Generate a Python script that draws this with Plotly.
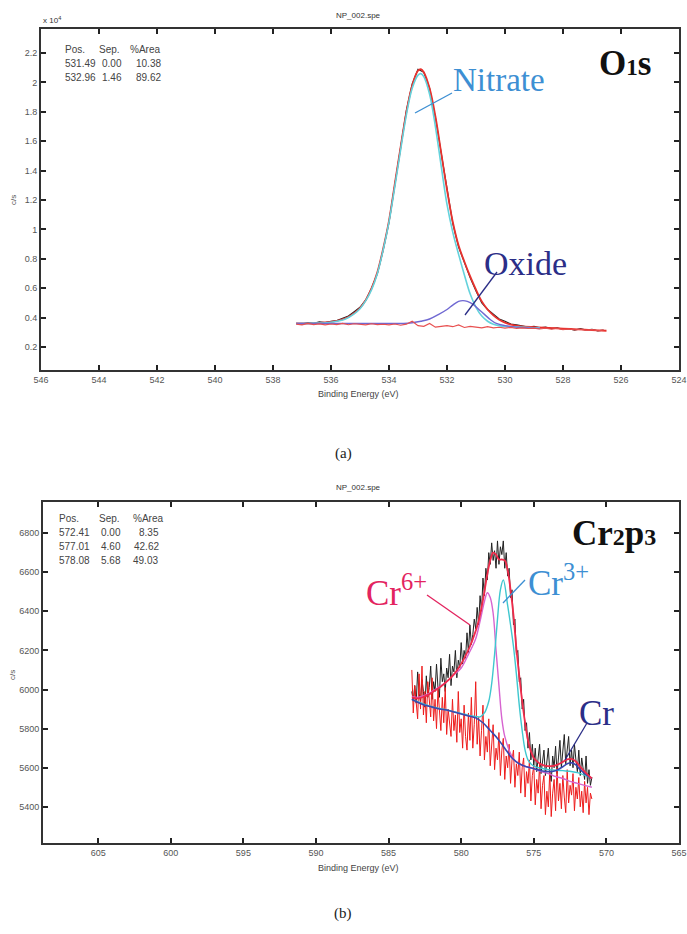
import numpy as np
import plotly.graph_objects as go

W, H = 687, 934

# ---------------- Panel (a): O1s ----------------
a_xticks = [546, 544, 542, 540, 538, 536, 534, 532, 530, 528, 526, 524]
a_yticks = [0.2, 0.4, 0.6, 0.8, 1.0, 1.2, 1.4, 1.6, 1.8, 2.0, 2.2]
a_yticktext = ["0.2", "0.4", "0.6", "0.8", "1", "1.2", "1.4", "1.6", "1.8", "2", "2.2"]

a_raw_E = [537.2, 537.0, 536.8, 536.6, 536.4, 536.2, 536.0, 535.8, 535.6, 535.4, 535.2, 535.0,
           534.8, 534.6, 534.4, 534.2, 534.0, 533.8, 533.6, 533.4, 533.2, 533.0, 532.8, 532.6,
           532.4, 532.2, 532.0, 531.8, 531.6, 531.4, 531.2, 531.0, 530.8, 530.6, 530.4, 530.2,
           530.0, 529.8, 529.6, 529.4, 529.2, 529.0, 528.8, 528.6, 528.4, 528.2, 528.0, 527.8,
           527.6, 527.4, 527.2, 527.0, 526.8, 526.6]
a_raw = [0.36, 0.355, 0.365, 0.36, 0.37, 0.365, 0.375, 0.38, 0.395, 0.41, 0.44, 0.47,
         0.52, 0.60, 0.70, 0.86, 1.05, 1.31, 1.56, 1.81, 1.99, 2.09, 2.07, 1.96,
         1.76, 1.52, 1.26, 1.04, 0.88, 0.77, 0.67, 0.58, 0.50, 0.455, 0.42, 0.39,
         0.375, 0.355, 0.35, 0.345, 0.335, 0.34, 0.33, 0.335, 0.325, 0.33, 0.32, 0.325,
         0.315, 0.325, 0.315, 0.32, 0.31, 0.315]
a_resid = [0.355, 0.35, 0.36, 0.352, 0.357, 0.35, 0.356, 0.352, 0.36, 0.351, 0.358, 0.355,
           0.35, 0.358, 0.352, 0.354, 0.35, 0.356, 0.348, 0.355, 0.375, 0.345, 0.34, 0.36,
           0.335, 0.34, 0.345, 0.338, 0.35, 0.332, 0.34, 0.335, 0.33, 0.338, 0.33, 0.334,
           0.328, 0.333, 0.326, 0.33, 0.325, 0.328, 0.322, 0.327, 0.32, 0.325, 0.318, 0.322,
           0.315, 0.32, 0.313, 0.318, 0.31, 0.315]

a_env_E = [537.2, 536.5, 536, 535.5, 535.2, 535, 534.8, 534.6, 534.4, 534.2, 534, 533.8, 533.6,
           533.4, 533.2, 533, 532.9, 532.8, 532.6, 532.4, 532.2, 532, 531.8, 531.6, 531.4, 531.2,
           531, 530.8, 530.6, 530.4, 530.2, 530, 529.8, 529.5, 529, 528.5, 528, 527.5, 527, 526.5]
a_env = [0.36, 0.362, 0.37, 0.395, 0.43, 0.465, 0.52, 0.6, 0.71, 0.87, 1.06, 1.31, 1.56,
         1.8, 1.98, 2.08, 2.09, 2.07, 1.96, 1.77, 1.52, 1.27, 1.05, 0.89, 0.78, 0.68,
         0.59, 0.51, 0.455, 0.415, 0.385, 0.365, 0.352, 0.342, 0.335, 0.33, 0.325, 0.32, 0.315, 0.31]

a_nit_E = [537.2, 536.5, 536, 535.5, 535.2, 535, 534.8, 534.6, 534.4, 534.2, 534, 533.8, 533.6,
           533.4, 533.2, 533, 532.9, 532.8, 532.6, 532.4, 532.2, 532, 531.8, 531.6, 531.4, 531.2,
           531, 530.8, 530.6, 530.4, 530.2, 530, 529.5, 529, 528.8]
a_nit = [0.36, 0.362, 0.368, 0.39, 0.425, 0.46, 0.515, 0.59, 0.70, 0.86, 1.05, 1.29, 1.54,
         1.78, 1.96, 2.05, 2.06, 2.04, 1.92, 1.70, 1.43, 1.17, 0.98, 0.83, 0.69, 0.56,
         0.47, 0.41, 0.375, 0.355, 0.345, 0.34, 0.335, 0.33, 0.33]

a_ox_E = [537.2, 536, 535, 534, 533.5, 533.2, 532.9, 532.6, 532.3, 532.0, 531.8, 531.6, 531.45,
          531.3, 531.1, 530.9, 530.7, 530.5, 530.3, 530.0, 529.6, 529.2, 528.8]
a_ox = [0.36, 0.36, 0.36, 0.36, 0.36, 0.365, 0.375, 0.39, 0.42, 0.455, 0.485, 0.51, 0.515,
        0.51, 0.49, 0.455, 0.42, 0.385, 0.36, 0.345, 0.335, 0.33, 0.325]

a_table = [["Pos.", "Sep.", "%Area"],
           ["531.49", "0.00", "10.38"],
           ["532.96", "1.46", "89.62"]]

# ---------------- Panel (b): Cr2p3 ----------------
b_xticks = [605, 600, 595, 590, 585, 580, 575, 570, 565]
b_yticks = [5400, 5600, 5800, 6000, 6200, 6400, 6600, 6800]

# raw counts, sampled every 0.1 eV from 583.4 eV downwards
b_raw_start, b_raw_step = 583.4, 0.1
b_raw = [5990, 5940, 6020, 5930, 6090, 5980, 5940, 6050, 5990, 5910,
         6070, 5960, 6010, 6120, 5950, 6040, 5990, 6130, 6010, 5960,
         6160, 6040, 6080, 5990, 6110, 6060, 6180, 6020, 6120, 6090,
         6200, 6060, 6150, 6110, 6240, 6130, 6200, 6160, 6290, 6190,
         6330, 6230, 6280, 6360, 6310, 6420, 6330, 6480, 6400, 6570,
         6480, 6620, 6560, 6700, 6640, 6750, 6660, 6710, 6620, 6760,
         6640, 6730, 6690, 6760, 6620, 6700, 6580, 6620, 6470, 6510,
         6330, 6360, 6180, 6200, 6040, 6060, 5900, 5950, 5790, 5830,
         5700, 5780, 5640, 5720, 5610, 5700, 5580, 5660, 5720, 5570,
         5640, 5690, 5560, 5620, 5700, 5580, 5530, 5660, 5600, 5710,
         5570, 5650, 5740, 5600, 5680, 5770, 5620, 5700, 5760, 5610,
         5690, 5600, 5720, 5640, 5580, 5690, 5560, 5650, 5600, 5540,
         5660, 5520, 5590, 5510, 5550]
b_red = [6100, 5880, 6020, 5940, 5850, 6080, 5900, 6120, 5870, 5990,
         5830, 6040, 5920, 5860, 6060, 5840, 5950, 5800, 6000, 5880,
         5790, 5960, 5830, 6010, 5770, 5900, 5820, 5760, 5950, 5790,
         5870, 5730, 5990, 5780, 5850, 5700, 5920, 5760, 5690, 5880,
         5740, 5960, 5700, 5820, 6040, 5720, 5860, 5660, 5790, 5920,
         5640, 5760, 5680, 5850, 5610, 5740, 5820, 5590, 5700, 5640,
         5780, 5560, 5690, 5750, 5540, 5660, 5600, 5720, 5520, 5640,
         5690, 5500, 5620, 5560, 5680, 5470, 5600, 5650, 5450, 5580,
         5520, 5640, 5430, 5560, 5610, 5410, 5540, 5470, 5620, 5390,
         5510, 5560, 5360, 5480, 5400, 5580, 5350, 5470, 5540, 5380,
         5600, 5430, 5520, 5390, 5560, 5450, 5370, 5590, 5420, 5510,
         5460, 5570, 5380, 5500, 5440, 5550, 5400, 5480, 5370, 5530,
         5420, 5500, 5360, 5470, 5440]

b_env_E = [583.4, 583.0, 582.6, 582.2, 581.8, 581.4, 581.0, 580.6, 580.2, 579.8, 579.4, 579.0,
           578.8, 578.6, 578.4, 578.2, 578.0, 577.8, 577.6, 577.4, 577.2, 577.0, 576.8, 576.6,
           576.4, 576.2, 576.0, 575.8, 575.6, 575.4, 575.2, 575.0, 574.6, 574.2, 573.8, 573.4,
           573.0, 572.7, 572.4, 572.1, 571.8, 571.4, 571.0]
b_env = [5960, 5955, 5962, 5975, 5995, 6015, 6040, 6070, 6108, 6158, 6220, 6300,
         6350, 6420, 6500, 6590, 6660, 6700, 6690, 6665, 6665, 6660, 6610, 6510,
         6380, 6210, 6070, 5940, 5830, 5740, 5685, 5650, 5622, 5610, 5608, 5615,
         5630, 5643, 5645, 5632, 5605, 5572, 5545]

b_cr3_E = [583.4, 582, 581, 580, 579.5, 579, 578.7, 578.4, 578.1, 577.9, 577.7, 577.5, 577.3,
           577.1, 576.8, 576.6, 576.4, 576.2, 576.0, 575.8, 575.6, 575.4, 575.2, 575, 574, 573, 572, 571]
b_cr3 = [5950, 5912, 5895, 5878, 5868, 5862, 5860, 5880, 5940, 6030, 6180, 6360, 6510,
         6560, 6430, 6330, 6220, 6080, 5920, 5790, 5690, 5640, 5620, 5608, 5590, 5585, 5575, 5545]

b_cr6_E = [583.4, 583, 582.5, 582, 581.5, 581, 580.5, 580, 579.5, 579.0, 578.7, 578.4, 578.2,
           578.0, 577.8, 577.6, 577.4, 577.2, 577.0, 576.7, 576.4, 576.0, 575.5, 575, 574.5, 574,
           573.5, 573, 572.5, 572, 571.5, 571]
b_cr6 = [5965, 5960, 5970, 5990, 6015, 6040, 6075, 6110, 6180, 6260, 6350, 6450, 6495,
         6470, 6390, 6200, 6020, 5850, 5760, 5690, 5645, 5620, 5605, 5595, 5580, 5570,
         5555, 5545, 5530, 5520, 5510, 5500]

b_cr_E = [583.4, 583, 582.5, 582, 581.5, 581, 580.5, 580, 579.5, 579, 578.5, 578, 577.5, 577,
          576.5, 576, 575.5, 575, 574.5, 574, 573.5, 573, 572.7, 572.4, 572.1, 571.8, 571.4, 571]
b_cr = [5950, 5935, 5920, 5910, 5900, 5895, 5885, 5875, 5865, 5855, 5830, 5790, 5750, 5700,
        5650, 5620, 5605, 5595, 5585, 5580, 5585, 5605, 5620, 5625, 5615, 5590, 5565, 5545]

b_table = [["Pos.", "Sep.", "%Area"],
           ["572.41", "0.00", "8.35"],
           ["577.01", "4.60", "42.62"],
           ["578.08", "5.68", "49.03"]]

b_raw_E = [round(b_raw_start - b_raw_step * i, 2) for i in range(len(b_raw))]
b_red_E = [round(b_raw_start - b_raw_step * i, 2) for i in range(len(b_red))]

# ---------------- helpers ----------------
def PX(x):
    return x / W

def PY(y):
    return 1 - y / H

RED = "#e8322e"
CYAN_A = "#64d2dc"
OXB = "#6f68d2"
CYAN_B = "#3fc7cf"
MAG = "#d764d0"
CRB = "#3948b0"

fig = go.Figure()

# panel a traces
fig.add_trace(go.Scatter(x=a_raw_E, y=a_raw, mode="lines", line=dict(color="#222", width=1.2), xaxis="x", yaxis="y"))
fig.add_trace(go.Scatter(x=a_env_E, y=a_env, mode="lines", line=dict(color=RED, width=1.8, shape="spline"), xaxis="x", yaxis="y"))
fig.add_trace(go.Scatter(x=a_nit_E, y=a_nit, mode="lines", line=dict(color=CYAN_A, width=1.6, shape="spline"), xaxis="x", yaxis="y"))
fig.add_trace(go.Scatter(x=a_ox_E, y=a_ox, mode="lines", line=dict(color=OXB, width=1.4, shape="spline"), xaxis="x", yaxis="y"))
fig.add_trace(go.Scatter(x=a_raw_E, y=a_resid, mode="lines", line=dict(color="#e85050", width=1.1), xaxis="x", yaxis="y"))

# panel b traces
fig.add_trace(go.Scatter(x=b_raw_E, y=b_raw, mode="lines", line=dict(color="#222", width=1.0), xaxis="x2", yaxis="y2"))
fig.add_trace(go.Scatter(x=b_red_E, y=b_red, mode="lines", line=dict(color="#ee1c1c", width=1.0), xaxis="x2", yaxis="y2"))
fig.add_trace(go.Scatter(x=b_cr6_E, y=b_cr6, mode="lines", line=dict(color=MAG, width=1.4, shape="spline"), xaxis="x2", yaxis="y2"))
fig.add_trace(go.Scatter(x=b_cr3_E, y=b_cr3, mode="lines", line=dict(color=CYAN_B, width=1.4, shape="spline"), xaxis="x2", yaxis="y2"))
fig.add_trace(go.Scatter(x=b_cr_E, y=b_cr, mode="lines", line=dict(color=CRB, width=1.6, shape="spline"), xaxis="x2", yaxis="y2"))
fig.add_trace(go.Scatter(x=b_env_E, y=b_env, mode="lines", line=dict(color="#f02a4a", width=1.8, shape="spline"), xaxis="x2", yaxis="y2"))

tickfont = dict(family="Liberation Sans", size=9, color="#555")
axcommon = dict(showline=True, linecolor="#333", linewidth=2, mirror="ticks", ticks="inside",
                ticklen=5, tickwidth=2, tickcolor="#222", showgrid=False, zeroline=False,
                tickfont=tickfont, fixedrange=True, automargin=False)

fig.update_layout(
    template="none",
    width=W, height=H, margin=dict(l=0, r=0, t=0, b=0, pad=0), autosize=False,
    paper_bgcolor="white", plot_bgcolor="white", showlegend=False,
    xaxis=dict(domain=[PX(41), PX(679)], range=[546, 524], tickvals=a_xticks, anchor="y", **axcommon),
    yaxis=dict(domain=[PY(370), PY(29)], range=[0.043, 2.364], tickvals=a_yticks, ticktext=a_yticktext, anchor="x", **axcommon),
    xaxis2=dict(domain=[PX(43), PX(679)], range=[608.8, 565], tickvals=b_xticks, anchor="y2", **axcommon),
    yaxis2=dict(domain=[PY(843), PY(502)], range=[5215, 6959], tickvals=b_yticks, anchor="x2", **axcommon),
)

ann = []
def txt(x, y, s, size=10, color="#333", family="Liberation Sans", xanchor="left", yanchor="middle", angle=0):
    ann.append(dict(x=PX(x), y=PY(y), xref="paper", yref="paper", text=s, showarrow=False,
                    xanchor=xanchor, yanchor=yanchor, textangle=angle,
                    font=dict(family=family, size=size, color=color)))

# titles & axis labels
txt(358, 15, "NP_002.spe", size=8, xanchor="center")
txt(358, 488, "NP_002.spe", size=8, xanchor="center")
txt(41, 20, "x 10<sup>4</sup>", size=8)
txt(358, 394, "Binding Energy (eV)", size=9, xanchor="center", color="#444")
txt(358, 868, "Binding Energy (eV)", size=9, xanchor="center", color="#444")
txt(13, 200, "c/s", size=8, xanchor="center", angle=-90, color="#555")
txt(12, 675, "c/s", size=8, xanchor="center", angle=-90, color="#555")
txt(343, 453, "(a)", size=15, family="Liberation Serif", xanchor="center", color="#222")
txt(343, 913, "(b)", size=15, family="Liberation Serif", xanchor="center", color="#222")

# fit tables
a_cols = [[63, 97, 128], [63, 100, 134], [63, 100, 134]]
for r, row in enumerate(a_table):
    for c, cell in enumerate(row):
        txt(a_cols[r][c], 50 + r * 14, cell, size=10, color="#444")
b_cols = [[57, 97, 131], [57, 99, 137], [57, 99, 132], [57, 99, 131]]
for r, row in enumerate(b_table):
    for c, cell in enumerate(row):
        txt(b_cols[r][c], 518 + r * 14, cell, size=10, color="#444")

# big labels
txt(597, 64, "<b>O<span style='font-size:23px'>1</span>s</b>", size=35, family="Liberation Serif", color="#111")
txt(570, 533, "<b>Cr<span style='font-size:24px'>2</span>p<span style='font-size:24px'>3</span></b>", size=35, family="Liberation Serif", color="#111")
txt(451, 80, "Nitrate", size=33, family="Liberation Serif", color="#3d8fd3")
txt(482, 263, "Oxide", size=34, family="Liberation Serif", color="#2b2e87")
txt(364, 590, "Cr<sup>6+</sup>", size=35, family="Liberation Serif", color="#e3245f")
txt(526, 580, "Cr<sup>3+</sup>", size=35, family="Liberation Serif", color="#3d8fd3")
txt(577, 713, "Cr", size=35, family="Liberation Serif", color="#2b2e87")

fig.update_layout(annotations=ann)

# leader lines
def seg(x0, y0, x1, y1, color):
    fig.add_shape(type="line", xref="paper", yref="paper", x0=PX(x0), y0=PY(y0), x1=PX(x1), y1=PY(y1),
                  line=dict(color=color, width=1.3))

seg(452, 93, 415, 113, "#3d8fd3")
seg(497, 272, 465, 315, "#2b2e87")
seg(427, 595, 470, 625, "#e3245f")
seg(525, 580, 503, 603, "#3d8fd3")
seg(587, 723, 565, 760, "#2b2e87")

fig.write_html("out.html", config={"displayModeBar": False},
               post_script="document.body.style.margin='0px';document.body.style.overflow='hidden';")
